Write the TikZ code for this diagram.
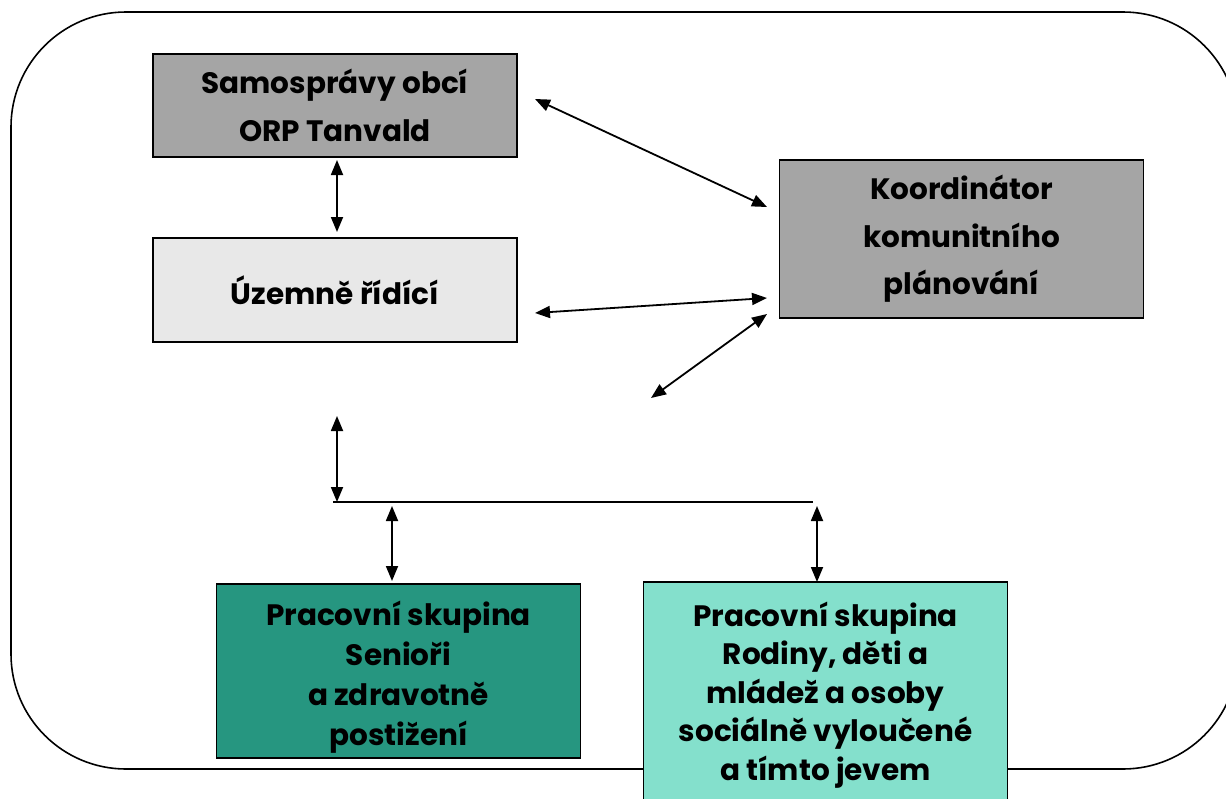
\documentclass[tikz,border=0pt]{standalone}
\usepackage{fontspec}
\setmainfont{Poppins}
\usetikzlibrary{arrows.meta}
\definecolor{boxgray}{HTML}{A5A5A5}
\definecolor{boxlight}{HTML}{E8E8E8}
\definecolor{boxteal}{HTML}{269680}
\definecolor{boxaqua}{HTML}{84E0CC}
\tikzset{
  box/.style={draw=black, line width=1.5pt, inner sep=0pt, align=center,
    minimum width=364pt, font=\fontsize{29.5}{47.5}\selectfont\bfseries},
  txt/.style={inner sep=0pt, align=center},
  arr/.style={line width=1.8pt, {Triangle[length=15pt,width=12pt]}-{Triangle[length=15pt,width=12pt]}},
  plain/.style={line width=1.8pt}
}
\begin{document}
\begin{tikzpicture}[x=1pt,y=-1pt]
\useasboundingbox (0,0) rectangle (1226,798);
\fill[white] (0,0) rectangle (1226,798);
\draw[line width=1.6pt, rounded corners=115pt] (11,12) rectangle (1238,769);

\node[box, fill=boxgray, minimum height=103pt] (sam) at (335,105.5) {Samosprávy obcí\\ORP Tanvald};
\node[box, fill=boxlight, minimum height=104pt] (uz) at (335,290) {Územně řídící};
\node[box, fill=boxgray, minimum height=158pt] (koord) at (961.5,239) {Koordinátor\\komunitního\\plánování};
\node[box, fill=boxteal, minimum height=174pt] (sen) at (398.5,671) {};
\node[box, txt, draw=none, font=\fontsize{29.5}{40}\selectfont\bfseries] (senT) at (398.5,677) {Pracovní skupina\\Senioři\\a zdravotně\\postižení};
\node[box, fill=boxaqua, minimum height=226pt, font=\fontsize{29.5}{38.5}\selectfont\bfseries] (rod) at (825.5,695) {Pracovní skupina\\Rodiny, děti a\\mládež a osoby\\sociálně vyloučené\\a tímto jevem};

\coordinate (a1) at (337,160);
\coordinate (a2) at (337,232);
\coordinate (b1) at (535,99);
\coordinate (b2) at (767,207);
\coordinate (c1) at (535,313);
\coordinate (c2) at (767,298);
\coordinate (d1) at (651,398);
\coordinate (d2) at (767,314);
\coordinate (e1) at (337,416);
\coordinate (e2) at (337,502);
\coordinate (hl) at (333,502);
\coordinate (hr) at (813,502);
\coordinate (f1) at (392,506);
\coordinate (f2) at (392,581);
\coordinate (g1) at (817,506);
\coordinate (g2) at (817,582);

\draw[arr] (a1) -- (a2);
\draw[arr] (b1) -- (b2);
\draw[arr] (c1) -- (c2);
\draw[arr] (d1) -- (d2);
\draw[arr] (e1) -- (e2);
\draw[plain] (hl) -- (hr);
\draw[arr] (f1) -- (f2);
\draw[arr] (g1) -- (g2);
\end{tikzpicture}
\end{document}
